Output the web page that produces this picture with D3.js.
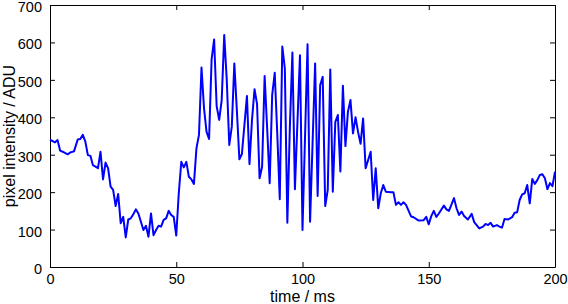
<!DOCTYPE html>
<html>
<head>
<meta charset="utf-8">
<script src="https://cdn.jsdelivr.net/npm/d3@7"></script>
<style>
  body { margin: 0; background: #fff; }
  text { font-family: "Liberation Sans", Arial, sans-serif; fill: #000; }
</style>
</head>
<body>
<div id="chart"></div>
<script>

// sample times (ms) and pixel intensity (ADU)
var times = [0, 2, 3, 4, 5, 7, 8, 9.5, 11, 12, 13, 14, 15, 16, 17, 19, 20, 21, 22, 23,
  24, 25, 26, 27, 28, 29, 30, 31, 32, 33, 34, 35, 37, 38, 39, 40, 41, 42, 43, 44,
  45, 46, 47, 48, 49, 50, 51, 52, 53, 54, 55, 56, 57, 58, 59, 60, 61, 62, 63, 64,
  65, 66, 67, 68, 69, 70, 71, 72, 73, 74, 75, 76, 78, 79, 80, 81, 82, 83, 84, 85,
  86, 87, 88, 89, 90, 91, 92, 93, 94, 95, 96, 97, 99, 100, 102, 103, 105, 106, 107, 108,
  109, 110, 111, 112, 113, 114, 115, 116, 117, 118, 119, 120, 121, 122, 123, 124, 125, 126, 127, 128,
  129, 130, 131, 132, 133, 135, 136, 137, 138, 139, 140, 141, 143, 144, 146, 148, 149, 150, 151, 152,
  153, 154, 156, 157, 158, 160, 161, 162, 163, 164, 165.5, 167, 168, 170, 171.5, 172.5, 173.5, 174.5, 175.5, 177,
  178, 179, 180, 181.5, 183, 184, 185, 186, 187, 188, 189, 190, 191, 192, 193, 194, 195, 196, 197, 198,
  199, 200];

var intensity = [340, 333, 339, 311, 308, 301, 306, 309, 341, 342, 353, 335, 299, 297, 272, 264, 308, 234, 279, 264,
  215, 206, 163, 195, 117, 134, 79, 127, 130, 141, 154, 143, 99, 110, 81, 143, 85, 99, 110, 108,
  126, 130, 150, 139, 134, 84, 197, 281, 266, 281, 241, 234, 222, 317, 353, 533, 424, 361, 342, 555,
  608, 430, 393, 446, 620, 500, 326, 375, 544, 419, 288, 302, 457, 275, 393, 475, 435, 237, 268, 510,
  371, 224, 460, 519, 357, 181, 589, 531, 118, 375, 573, 208, 566, 99, 595, 121, 544, 190, 486, 508,
  163, 206, 528, 201, 388, 406, 255, 484, 323, 415, 446, 357, 400, 361, 329, 397, 264, 286, 308, 179,
  264, 157, 197, 219, 201, 200, 200, 166, 173, 166, 173, 166, 135, 133, 124, 125, 134, 114, 136, 150,
  134, 143, 164, 154, 150, 184, 157, 139, 148, 136, 127, 142, 120, 103, 108, 115, 112, 118, 108, 112,
  108, 105, 128, 127, 133, 145, 146, 179, 194, 197, 219, 170, 235, 222, 232, 246, 248, 237, 208, 224,
  216, 255];

var xTicks = [0, 50, 100, 150, 200];
var yTicks = [0, 100, 200, 300, 400, 500, 600, 700];

var width = 568,
    height = 304,
    margin = {top: 5, right: 13, bottom: 37, left: 50};

var svg = d3.select('#chart')
  .append('svg')
  .attr('width', width)
  .attr('height', height);

var x = d3.scaleLinear().domain([0, 200]).range([margin.left, width - margin.right]),
    y = d3.scaleLinear().domain([0, 700]).range([height - margin.bottom, margin.top]);

// box ticks point inwards on all four sides
var tickLen = 5;

svg.append('g')
  .attr('transform', 'translate(0,' + y(0) + ')')
  .call(d3.axisBottom(x).tickValues(xTicks).tickSizeInner(-tickLen).tickSizeOuter(0).tickPadding(7));

svg.append('g')
  .attr('transform', 'translate(0,' + y(700) + ')')
  .call(d3.axisTop(x).tickValues(xTicks).tickSizeInner(-tickLen).tickSizeOuter(0).tickFormat(''));

var yAxis = svg.append('g')
  .attr('transform', 'translate(' + x(0) + ',0)')
  .call(d3.axisLeft(y).tickValues(yTicks).tickSizeInner(-tickLen).tickSizeOuter(0).tickPadding(8));

yAxis.selectAll('.tick text').attr('dy', '0.45em');

svg.append('g')
  .attr('transform', 'translate(' + x(200) + ',0)')
  .call(d3.axisRight(y).tickValues(yTicks).tickSizeInner(-tickLen).tickSizeOuter(0).tickFormat(''));

svg.selectAll('.domain').attr('stroke', '#000').attr('stroke-width', 1);
svg.selectAll('.tick line').attr('stroke', '#000');
svg.selectAll('.tick text')
  .style('font-family', '"Liberation Sans", Arial, sans-serif')
  .style('font-size', '14.5px')
  .attr('fill', '#000');

// the signal
var points = times.map(function(t, i) { return {t: t, v: intensity[i]}; });

var line = d3.line()
  .x(function(d) { return x(d.t); })
  .y(function(d) { return y(d.v); });

svg.append('path')
  .datum(points)
  .attr('d', line)
  .attr('fill', 'none')
  .attr('stroke', '#0000ff')
  .attr('stroke-width', 2)
  .attr('stroke-linejoin', 'round');

// axis labels
svg.append('text')
  .attr('x', (x(0) + x(200)) / 2)
  .attr('y', 302)
  .attr('text-anchor', 'middle')
  .style('font-size', '16px')
  .text('time / ms');

svg.append('text')
  .attr('transform', 'translate(15,' + (y(0) + y(700)) / 2 + ') rotate(-90)')
  .attr('text-anchor', 'middle')
  .style('font-size', '16px')
  .text('pixel intensity / ADU');

</script>
</body>
</html>
